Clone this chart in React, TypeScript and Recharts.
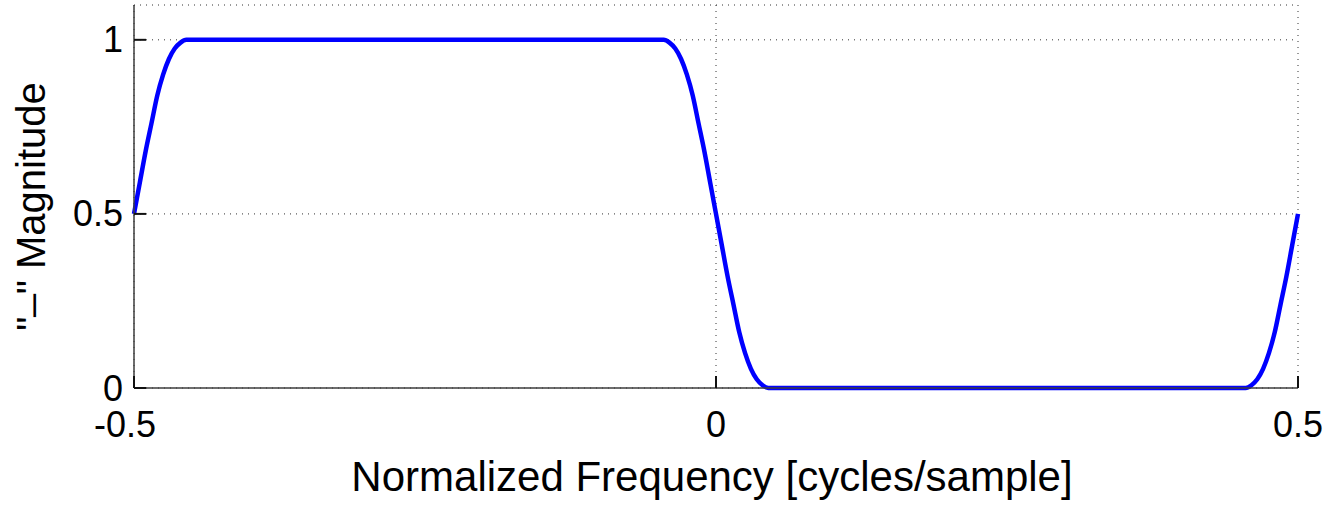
import React from 'react';
import { LineChart, Line, XAxis, YAxis, CartesianGrid } from 'recharts';

// Normalized frequency samples (cycles/sample) and the magnitude response at each one.
const FREQ = [
  -0.5, -0.495, -0.49, -0.485, -0.48, -0.475, -0.47, -0.465, -0.46, -0.455, -0.45,
  -0.3, -0.15,
  -0.05, -0.045, -0.04, -0.035, -0.03, -0.025, -0.02, -0.015, -0.01, -0.005,
  0, 0.005, 0.01, 0.015, 0.02, 0.025, 0.03, 0.035, 0.04, 0.045, 0.05,
  0.2, 0.35,
  0.45, 0.455, 0.46, 0.465, 0.47, 0.475, 0.48, 0.485, 0.49, 0.495, 0.5,
];
const MAG = [
  0.5, 0.59, 0.68, 0.76, 0.84, 0.9, 0.945, 0.975, 0.992, 1, 1,
  1, 1,
  1, 1, 0.992, 0.975, 0.945, 0.9, 0.84, 0.76, 0.68, 0.59,
  0.5, 0.41, 0.32, 0.24, 0.16, 0.1, 0.055, 0.025, 0.008, 0, 0,
  0, 0,
  0, 0, 0.008, 0.025, 0.055, 0.1, 0.16, 0.24, 0.32, 0.41, 0.5,
];

const X_TICKS = [-0.5, 0, 0.5];
const Y_TICKS = [0, 0.5, 1];
const X_TITLE = 'Normalized Frequency [cycles/sample]';
const Y_TITLE_MARK = '_';
const Y_TITLE_REST = ' Magnitude';

const data = FREQ.map((f, i) => ({ f, m: MAG[i] }));

const FONT = '"Liberation Sans", Arial, Helvetica, sans-serif';
const FRAME = '#3c3c3c';
const TICK_COLOR = '#111';
const TICK_LEN = 12;
const TICK_FONT = 36;
const TITLE_FONT = 42;

const BottomTick = (p: any) => {
  const { x, y, payload } = p;
  return (
    <g>
      <line x1={x} x2={x} y1={y} y2={y - TICK_LEN} stroke={TICK_COLOR} strokeWidth={2} />
      <text
        x={x}
        y={y + 36}
        dx={payload.value < 0 ? -9 : 0}
        textAnchor="middle"
        dominantBaseline="central"
        fontSize={TICK_FONT}
        fontFamily={FONT}
        fill="#000"
      >
        {String(payload.value)}
      </text>
    </g>
  );
};

const TopTick = (p: any) => {
  const { x, y } = p;
  return <line x1={x} x2={x} y1={y} y2={y + TICK_LEN} stroke={TICK_COLOR} strokeWidth={2} />;
};

const LeftTick = (p: any) => {
  const { x, y, payload } = p;
  return (
    <g>
      <line x1={x} x2={x + TICK_LEN} y1={y} y2={y} stroke={TICK_COLOR} strokeWidth={2} />
      <text
        x={x - 11}
        y={y}
        textAnchor="end"
        dominantBaseline="central"
        fontSize={TICK_FONT}
        fontFamily={FONT}
        fill="#000"
      >
        {String(payload.value)}
      </text>
    </g>
  );
};

const RightTick = (p: any) => {
  const { x, y } = p;
  return <line x1={x} x2={x - TICK_LEN} y1={y} y2={y} stroke={TICK_COLOR} strokeWidth={2} />;
};

const XTitle = (p: any) => {
  const vb = p.viewBox;
  return (
    <text
      x={vb.x + vb.width / 2 - 4}
      y={491}
      textAnchor="middle"
      fontSize={TITLE_FONT}
      fontFamily={FONT}
      fill="#000"
    >
      {X_TITLE}
    </text>
  );
};

const YTitle = (p: any) => {
  const vb = p.viewBox;
  const cx = 45;
  const cy = vb.y + vb.height / 2 + 10;
  return (
    <text
      x={cx}
      y={cy}
      transform={`rotate(-90 ${cx} ${cy})`}
      textAnchor="middle"
      fontSize={40}
      fontFamily={FONT}
      fill="#000"
    >
      <tspan>"</tspan>
      <tspan dy={-17}>{Y_TITLE_MARK}</tspan>
      <tspan dy={17}>"</tspan>
      <tspan>{Y_TITLE_REST}</tspan>
    </text>
  );
};

export default function App() {
  return (
    <div style={{ position: 'absolute', left: 0, top: 0, width: 1331, height: 507, background: '#fff' }}>
      <LineChart
        width={1331}
        height={507}
        data={data}
        margin={{ top: 5, right: 33, bottom: 0, left: 0 }}
      >
        <CartesianGrid stroke="#333" strokeDasharray="1 5" strokeWidth={1} />
        <XAxis
          dataKey="f"
          type="number"
          domain={[-0.5, 0.5]}
          ticks={X_TICKS}
          height={119}
          tickSize={0}
          tickMargin={0}
          tickLine={false}
          axisLine={{ stroke: FRAME, strokeWidth: 1.5 }}
          tick={BottomTick}
          label={{ content: XTitle }}
        />
        <XAxis
          xAxisId="top"
          orientation="top"
          dataKey="f"
          type="number"
          domain={[-0.5, 0.5]}
          ticks={X_TICKS}
          height={0}
          tickSize={0}
          tickMargin={0}
          tickLine={false}
          axisLine={{ stroke: FRAME, strokeWidth: 1.5 }}
          tick={TopTick}
        />
        <YAxis
          type="number"
          domain={[0, 1.1]}
          ticks={Y_TICKS}
          width={134}
          tickSize={0}
          tickMargin={0}
          tickLine={false}
          axisLine={{ stroke: FRAME, strokeWidth: 1.5 }}
          tick={LeftTick}
          label={{ content: YTitle }}
        />
        <YAxis
          yAxisId="right"
          orientation="right"
          type="number"
          domain={[0, 1.1]}
          ticks={Y_TICKS}
          width={0}
          tickSize={0}
          tickMargin={0}
          tickLine={false}
          axisLine={{ stroke: FRAME, strokeWidth: 1.5 }}
          tick={RightTick}
        />
        <Line
          dataKey="m"
          type="monotone"
          stroke="#0000ff"
          strokeWidth={4.5}
          dot={false}
          activeDot={false}
          isAnimationActive={false}
        />
      </LineChart>
    </div>
  );
}
